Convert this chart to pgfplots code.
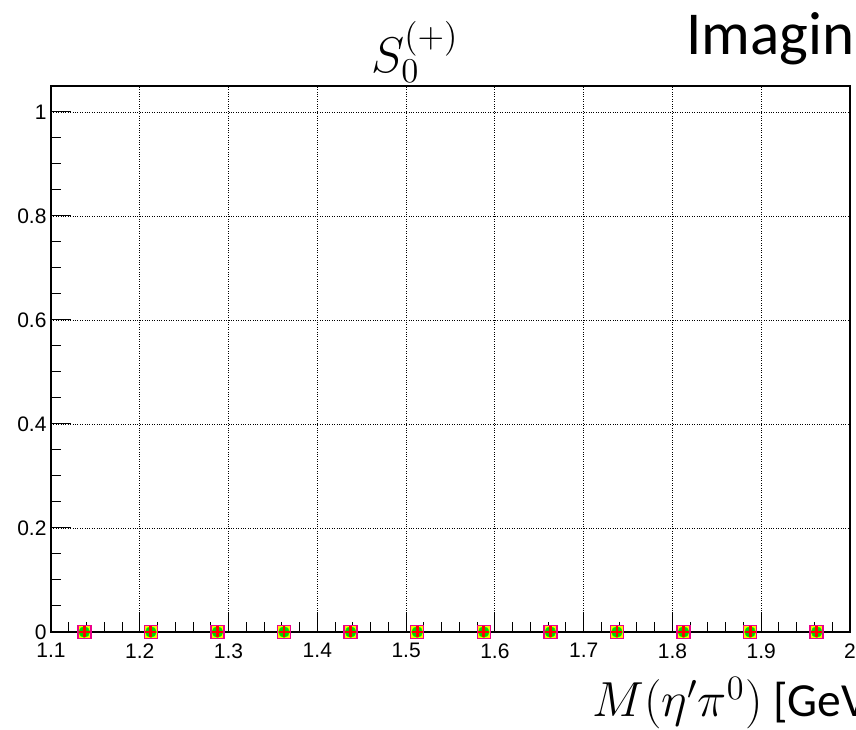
\documentclass[border=0pt]{standalone}
\usepackage{graphicx}
\usepackage{fontspec}
\setmainfont{Carlito}
\newfontfamily\helv{Liberation Sans}
\usepackage{pgfplots}
\pgfplotsset{compat=1.18}
\usepackage{pgfplotstable}
\pgfplotstableread{
x y
1.1375 0
1.2125 0
1.2875 0
1.3625 0
1.4375 0
1.5125 0
1.5875 0
1.6625 0
1.7375 0
1.8125 0
1.8875 0
1.9625 0
}\datatable
\begin{document}
\begin{tikzpicture}[x=1pt,y=1pt]
\useasboundingbox (0,0) rectangle (856,730);
\clip (0,0) rectangle (856,730);
\begin{axis}[
  at={(51pt,98pt)}, anchor=south west,
  scale only axis, width=799pt, height=546pt,
  xmin=1.1, xmax=2, ymin=0, ymax=1.05,
  xtick={1.1,1.2,1.3,1.4,1.5,1.6,1.7,1.8,1.9,2},
  xticklabels={1.1,1.2,1.3,1.4,1.5,1.6,1.7,1.8,1.9,2},
  ytick={0,0.2,0.4,0.6,0.8,1},
  yticklabels={0,0.2,0.4,0.6,0.8,1},
  minor x tick num=4, minor y tick num=3,
  tick align=inside, tick pos=left,
  major tick length=20pt, minor tick length=10pt,
  every tick/.style={black, line width=1pt},
  grid=major,
  major grid style={black, dotted, line width=0.9pt},
  axis line style={black, line width=1.2pt},
  tick label style={font=\helv\fontsize{21}{21}\selectfont, black},
  xticklabel style={yshift=-8pt},
  yticklabel style={xshift=-1pt},
]
\draw[line width=2pt] (rel axis cs:0,0) -- (rel axis cs:1,0);
\draw[line width=1.8pt] (rel axis cs:0,0) -- (rel axis cs:0,1);
\addplot[only marks, mark=square*, mark size=6.5pt, mark options={fill=yellow, draw=magenta, line width=1.5pt}] table[x=x,y=y] {\datatable};
\addplot[only marks, mark=*, mark size=5.5pt, mark options={fill=green!85!black, draw=green}] table[x=x,y=y] {\datatable};
\addplot[only marks, mark=+, mark size=5.5pt, mark options={draw=red, line width=2.8pt}] table[x=x,y=y] {\datatable};
\end{axis}
\node[anchor=base west, inner sep=0] at (371,657) {\scalebox{2.9}{\LARGE $S_0^{(+)}$}};
\node[anchor=base west, inner sep=0] at (686,675) {\fontsize{61}{61}\selectfont Imaginary part};
\node[anchor=base west, inner sep=0] at (592,13) {\scalebox{2.85}{\LARGE $M(\eta'\pi^0)$}\scalebox{2.75}{\LARGE\ [GeV]}};
\end{tikzpicture}
\end{document}
